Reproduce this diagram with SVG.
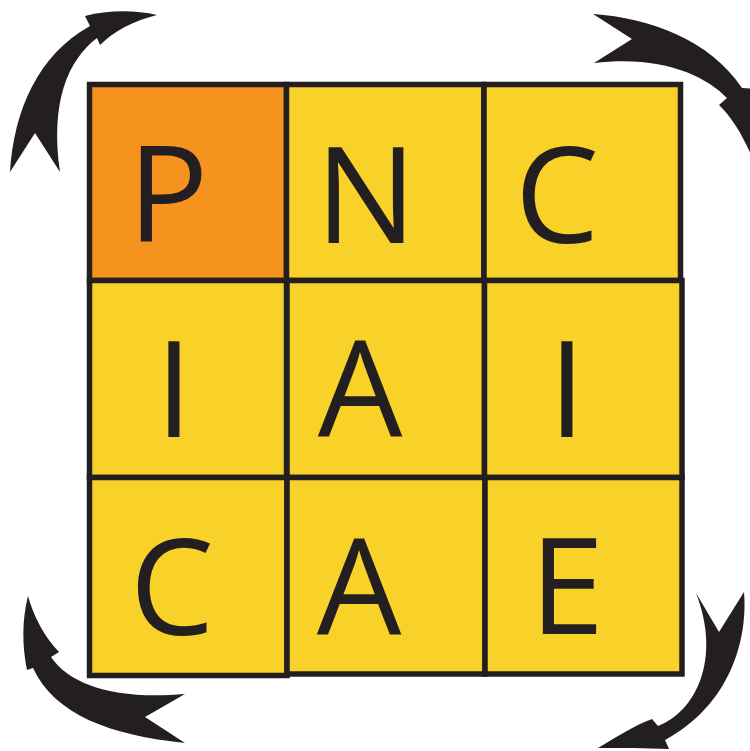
<svg xmlns="http://www.w3.org/2000/svg" width="750" height="751" viewBox="0 0 750 751">
<style>
.cell{stroke:#231f20;stroke-width:5.5;stroke-linejoin:miter}
.y{fill:#f9d229}
.o{fill:#f6931e}
.t{font-family:"Open Sans","Liberation Sans",sans-serif;font-size:134px;fill:#231f20;text-anchor:middle}
.arr{fill:#231f20}
</style>
<rect width="750" height="751" fill="#ffffff"/>
<g id="connectors">
<path class="arr" d="M10,172 C14,110 38,55 90,26 L85,16 C108,10 135,10 157,15 C133,21 114,31 100,45 L97,38 C68,60 50,102 60,172 L35,133 Z"/>
<path class="arr" d="M593,14 C650,18 710,40 742,88 L775,90 C765,120 765,160 768,200 C755,160 740,125 719,105 L727,98 C705,75 660,55 594,63 L632,39 Z"/>
<path class="arr" d="M28,596 C33,615 45,638 59,652 L51,657 C70,685 115,700 185,694 L145,717 L185,743 C110,735 55,715 33,668 L27,670 C22,645 22,620 28,596 Z"/>
<path class="arr" d="M696,593 L719,632 L744,592 C748,640 730,705 665,740 L669,749 C645,748 620,748 598,748 C620,735 635,725 652,719 L658,726 C695,712 722,660 696,593 Z"/>
</g>
<g id="cell-P"><rect class="cell o" x="89.5" y="84.5" width="197" height="196"/><text class="t" x="168" y="242">P</text></g>
<g id="cell-N"><rect class="cell y" x="286.5" y="84.5" width="197.5" height="196"/><text class="t" x="366" y="243">N</text></g>
<g id="cell-C1"><rect class="cell y" x="484" y="84.5" width="196.5" height="196"/><text class="t" x="557" y="243">C</text></g>
<g id="cell-I1"><rect class="cell y" x="89.5" y="280.5" width="197" height="197"/><text class="t" x="174" y="437">I</text></g>
<g id="cell-A1"><rect class="cell y" x="287" y="280.5" width="197.5" height="197"/><text class="t" x="360" y="436">A</text></g>
<g id="cell-I2"><rect class="cell y" x="484.5" y="280.5" width="197.5" height="197"/><text class="t" x="567" y="437">I</text></g>
<g id="cell-C2"><rect class="cell y" x="89.5" y="477.5" width="197.5" height="198"/><text class="t" x="172" y="635">C</text></g>
<g id="cell-A2"><rect class="cell y" x="287" y="477.5" width="198" height="196.5"/><text class="t" x="359" y="634">A</text></g>
<g id="cell-E"><rect class="cell y" x="485" y="477.5" width="197" height="196.5"/><text class="t" x="567" y="634">E</text></g>
</svg>
